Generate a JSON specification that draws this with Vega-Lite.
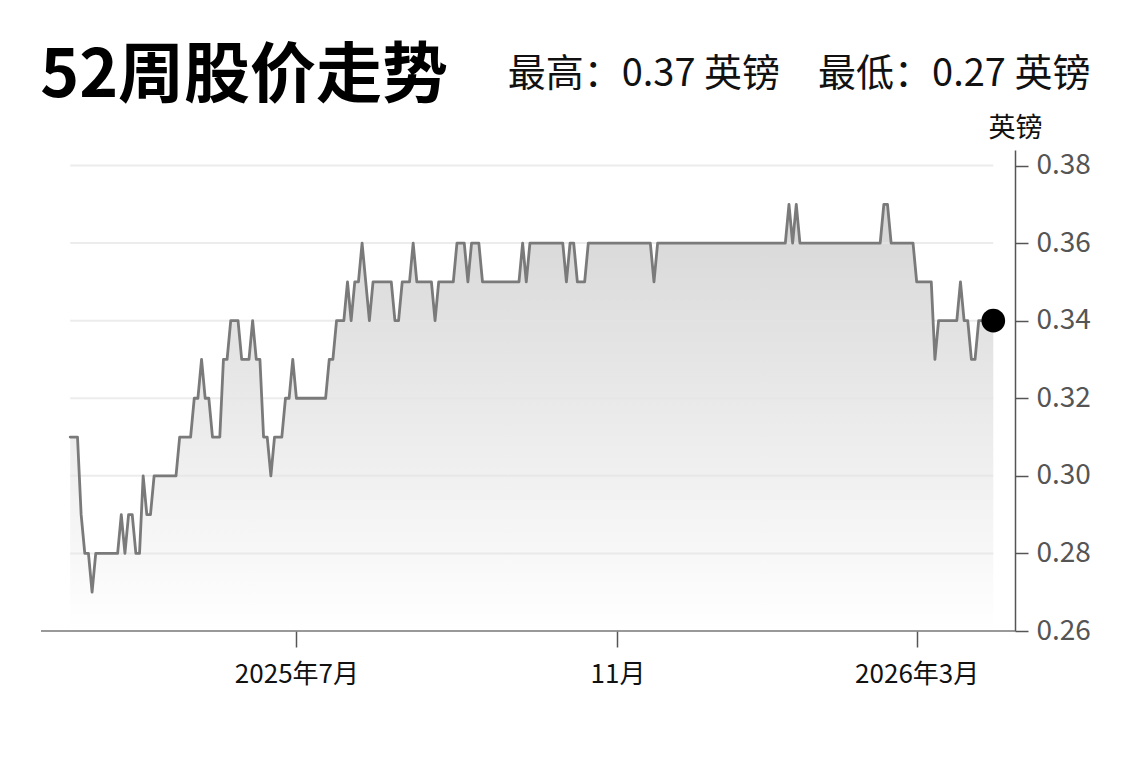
{
  "$schema": "https://vega.github.io/schema/vega-lite/v6.json",
  "padding": {"left": 40, "right": 0, "top": 44, "bottom": 0},
  "background": "white",
  "title": {"text": "52周股价走势", "anchor": "start", "font": "Noto Sans CJK SC", "fontSize": 66, "fontWeight": "bold", "color": "#000000", "offset": 0, "dy": 55},
  "datasets": {
    "grid": [{"g": 0.28}, {"g": 0.30}, {"g": 0.32}, {"g": 0.34}, {"g": 0.36}, {"g": 0.38}],
    "price": [
      {"d": "2025-03-31", "p": 0.31}, {"d": "2025-04-01", "p": 0.31}, {"d": "2025-04-02", "p": 0.31}, {"d": "2025-04-03", "p": 0.29},
      {"d": "2025-04-04", "p": 0.28}, {"d": "2025-04-07", "p": 0.28}, {"d": "2025-04-08", "p": 0.27}, {"d": "2025-04-09", "p": 0.28},
      {"d": "2025-04-10", "p": 0.28}, {"d": "2025-04-11", "p": 0.28}, {"d": "2025-04-14", "p": 0.28}, {"d": "2025-04-15", "p": 0.28},
      {"d": "2025-04-16", "p": 0.28}, {"d": "2025-04-17", "p": 0.28}, {"d": "2025-04-22", "p": 0.29}, {"d": "2025-04-23", "p": 0.28},
      {"d": "2025-04-24", "p": 0.29}, {"d": "2025-04-25", "p": 0.29}, {"d": "2025-04-28", "p": 0.28}, {"d": "2025-04-29", "p": 0.28},
      {"d": "2025-04-30", "p": 0.30}, {"d": "2025-05-01", "p": 0.29}, {"d": "2025-05-02", "p": 0.29}, {"d": "2025-05-06", "p": 0.30},
      {"d": "2025-05-07", "p": 0.30}, {"d": "2025-05-08", "p": 0.30}, {"d": "2025-05-09", "p": 0.30}, {"d": "2025-05-12", "p": 0.30},
      {"d": "2025-05-13", "p": 0.30}, {"d": "2025-05-14", "p": 0.30}, {"d": "2025-05-15", "p": 0.31}, {"d": "2025-05-16", "p": 0.31},
      {"d": "2025-05-19", "p": 0.31}, {"d": "2025-05-20", "p": 0.31}, {"d": "2025-05-21", "p": 0.32}, {"d": "2025-05-22", "p": 0.32},
      {"d": "2025-05-23", "p": 0.33}, {"d": "2025-05-27", "p": 0.32}, {"d": "2025-05-28", "p": 0.32}, {"d": "2025-05-29", "p": 0.31},
      {"d": "2025-05-30", "p": 0.31}, {"d": "2025-06-02", "p": 0.31}, {"d": "2025-06-03", "p": 0.33}, {"d": "2025-06-04", "p": 0.33},
      {"d": "2025-06-05", "p": 0.34}, {"d": "2025-06-06", "p": 0.34}, {"d": "2025-06-09", "p": 0.34}, {"d": "2025-06-10", "p": 0.33},
      {"d": "2025-06-11", "p": 0.33}, {"d": "2025-06-12", "p": 0.33}, {"d": "2025-06-13", "p": 0.34}, {"d": "2025-06-16", "p": 0.33},
      {"d": "2025-06-17", "p": 0.33}, {"d": "2025-06-18", "p": 0.31}, {"d": "2025-06-19", "p": 0.31}, {"d": "2025-06-20", "p": 0.30},
      {"d": "2025-06-23", "p": 0.31}, {"d": "2025-06-24", "p": 0.31}, {"d": "2025-06-25", "p": 0.31}, {"d": "2025-06-26", "p": 0.32},
      {"d": "2025-06-27", "p": 0.32}, {"d": "2025-06-30", "p": 0.33}, {"d": "2025-07-01", "p": 0.32}, {"d": "2025-07-02", "p": 0.32},
      {"d": "2025-07-03", "p": 0.32}, {"d": "2025-07-04", "p": 0.32}, {"d": "2025-07-07", "p": 0.32}, {"d": "2025-07-08", "p": 0.32},
      {"d": "2025-07-09", "p": 0.32}, {"d": "2025-07-10", "p": 0.32}, {"d": "2025-07-11", "p": 0.32}, {"d": "2025-07-14", "p": 0.33},
      {"d": "2025-07-15", "p": 0.33}, {"d": "2025-07-16", "p": 0.34}, {"d": "2025-07-17", "p": 0.34}, {"d": "2025-07-18", "p": 0.34},
      {"d": "2025-07-21", "p": 0.35}, {"d": "2025-07-22", "p": 0.34}, {"d": "2025-07-23", "p": 0.35}, {"d": "2025-07-24", "p": 0.35},
      {"d": "2025-07-25", "p": 0.36}, {"d": "2025-07-28", "p": 0.35}, {"d": "2025-07-29", "p": 0.34}, {"d": "2025-07-30", "p": 0.35},
      {"d": "2025-07-31", "p": 0.35}, {"d": "2025-08-01", "p": 0.35}, {"d": "2025-08-04", "p": 0.35}, {"d": "2025-08-05", "p": 0.35},
      {"d": "2025-08-06", "p": 0.35}, {"d": "2025-08-07", "p": 0.34}, {"d": "2025-08-08", "p": 0.34}, {"d": "2025-08-11", "p": 0.35},
      {"d": "2025-08-12", "p": 0.35}, {"d": "2025-08-13", "p": 0.35}, {"d": "2025-08-14", "p": 0.36}, {"d": "2025-08-15", "p": 0.35},
      {"d": "2025-08-18", "p": 0.35}, {"d": "2025-08-19", "p": 0.35}, {"d": "2025-08-20", "p": 0.35}, {"d": "2025-08-21", "p": 0.35},
      {"d": "2025-08-22", "p": 0.34}, {"d": "2025-08-26", "p": 0.35}, {"d": "2025-08-27", "p": 0.35}, {"d": "2025-08-28", "p": 0.35},
      {"d": "2025-08-29", "p": 0.35}, {"d": "2025-09-01", "p": 0.35}, {"d": "2025-09-02", "p": 0.36}, {"d": "2025-09-03", "p": 0.36},
      {"d": "2025-09-04", "p": 0.36}, {"d": "2025-09-05", "p": 0.35}, {"d": "2025-09-08", "p": 0.36}, {"d": "2025-09-09", "p": 0.36},
      {"d": "2025-09-10", "p": 0.36}, {"d": "2025-09-11", "p": 0.35}, {"d": "2025-09-12", "p": 0.35}, {"d": "2025-09-15", "p": 0.35},
      {"d": "2025-09-16", "p": 0.35}, {"d": "2025-09-17", "p": 0.35}, {"d": "2025-09-18", "p": 0.35}, {"d": "2025-09-19", "p": 0.35},
      {"d": "2025-09-22", "p": 0.35}, {"d": "2025-09-23", "p": 0.35}, {"d": "2025-09-24", "p": 0.35}, {"d": "2025-09-25", "p": 0.35},
      {"d": "2025-09-26", "p": 0.36}, {"d": "2025-09-29", "p": 0.35}, {"d": "2025-09-30", "p": 0.36}, {"d": "2025-10-01", "p": 0.36},
      {"d": "2025-10-02", "p": 0.36}, {"d": "2025-10-03", "p": 0.36}, {"d": "2025-10-06", "p": 0.36}, {"d": "2025-10-07", "p": 0.36},
      {"d": "2025-10-08", "p": 0.36}, {"d": "2025-10-09", "p": 0.36}, {"d": "2025-10-10", "p": 0.36}, {"d": "2025-10-13", "p": 0.36},
      {"d": "2025-10-14", "p": 0.35}, {"d": "2025-10-15", "p": 0.36}, {"d": "2025-10-16", "p": 0.36}, {"d": "2025-10-17", "p": 0.35},
      {"d": "2025-10-20", "p": 0.35}, {"d": "2025-10-21", "p": 0.35}, {"d": "2025-10-22", "p": 0.36}, {"d": "2025-10-23", "p": 0.36},
      {"d": "2025-10-24", "p": 0.36}, {"d": "2025-10-27", "p": 0.36}, {"d": "2025-10-28", "p": 0.36}, {"d": "2025-10-29", "p": 0.36},
      {"d": "2025-10-30", "p": 0.36}, {"d": "2025-10-31", "p": 0.36}, {"d": "2025-11-03", "p": 0.36}, {"d": "2025-11-04", "p": 0.36},
      {"d": "2025-11-05", "p": 0.36}, {"d": "2025-11-06", "p": 0.36}, {"d": "2025-11-07", "p": 0.36}, {"d": "2025-11-10", "p": 0.36},
      {"d": "2025-11-11", "p": 0.36}, {"d": "2025-11-12", "p": 0.36}, {"d": "2025-11-13", "p": 0.36}, {"d": "2025-11-14", "p": 0.36},
      {"d": "2025-11-17", "p": 0.35}, {"d": "2025-11-18", "p": 0.36}, {"d": "2025-11-19", "p": 0.36}, {"d": "2025-11-20", "p": 0.36},
      {"d": "2025-11-21", "p": 0.36}, {"d": "2025-11-24", "p": 0.36}, {"d": "2025-11-25", "p": 0.36}, {"d": "2025-11-26", "p": 0.36},
      {"d": "2025-11-27", "p": 0.36}, {"d": "2025-11-28", "p": 0.36}, {"d": "2025-12-01", "p": 0.36}, {"d": "2025-12-02", "p": 0.36},
      {"d": "2025-12-03", "p": 0.36}, {"d": "2025-12-04", "p": 0.36}, {"d": "2025-12-05", "p": 0.36}, {"d": "2025-12-08", "p": 0.36},
      {"d": "2025-12-09", "p": 0.36}, {"d": "2025-12-10", "p": 0.36}, {"d": "2025-12-11", "p": 0.36}, {"d": "2025-12-12", "p": 0.36},
      {"d": "2025-12-15", "p": 0.36}, {"d": "2025-12-16", "p": 0.36}, {"d": "2025-12-17", "p": 0.36}, {"d": "2025-12-18", "p": 0.36},
      {"d": "2025-12-19", "p": 0.36}, {"d": "2025-12-22", "p": 0.36}, {"d": "2025-12-23", "p": 0.36}, {"d": "2025-12-24", "p": 0.36},
      {"d": "2025-12-29", "p": 0.36}, {"d": "2025-12-30", "p": 0.36}, {"d": "2025-12-31", "p": 0.36}, {"d": "2026-01-02", "p": 0.36},
      {"d": "2026-01-05", "p": 0.36}, {"d": "2026-01-06", "p": 0.36}, {"d": "2026-01-07", "p": 0.36}, {"d": "2026-01-08", "p": 0.36},
      {"d": "2026-01-09", "p": 0.36}, {"d": "2026-01-12", "p": 0.37}, {"d": "2026-01-13", "p": 0.36}, {"d": "2026-01-14", "p": 0.37},
      {"d": "2026-01-15", "p": 0.36}, {"d": "2026-01-16", "p": 0.36}, {"d": "2026-01-19", "p": 0.36}, {"d": "2026-01-20", "p": 0.36},
      {"d": "2026-01-21", "p": 0.36}, {"d": "2026-01-22", "p": 0.36}, {"d": "2026-01-23", "p": 0.36}, {"d": "2026-01-26", "p": 0.36},
      {"d": "2026-01-27", "p": 0.36}, {"d": "2026-01-28", "p": 0.36}, {"d": "2026-01-29", "p": 0.36}, {"d": "2026-01-30", "p": 0.36},
      {"d": "2026-02-02", "p": 0.36}, {"d": "2026-02-03", "p": 0.36}, {"d": "2026-02-04", "p": 0.36}, {"d": "2026-02-05", "p": 0.36},
      {"d": "2026-02-06", "p": 0.36}, {"d": "2026-02-09", "p": 0.36}, {"d": "2026-02-10", "p": 0.36}, {"d": "2026-02-11", "p": 0.36},
      {"d": "2026-02-12", "p": 0.36}, {"d": "2026-02-13", "p": 0.36}, {"d": "2026-02-16", "p": 0.36}, {"d": "2026-02-17", "p": 0.37},
      {"d": "2026-02-18", "p": 0.37}, {"d": "2026-02-19", "p": 0.36}, {"d": "2026-02-20", "p": 0.36}, {"d": "2026-02-23", "p": 0.36},
      {"d": "2026-02-24", "p": 0.36}, {"d": "2026-02-25", "p": 0.36}, {"d": "2026-02-26", "p": 0.36}, {"d": "2026-02-27", "p": 0.36},
      {"d": "2026-03-02", "p": 0.35}, {"d": "2026-03-03", "p": 0.35}, {"d": "2026-03-04", "p": 0.35}, {"d": "2026-03-05", "p": 0.35},
      {"d": "2026-03-06", "p": 0.35}, {"d": "2026-03-09", "p": 0.33}, {"d": "2026-03-10", "p": 0.34}, {"d": "2026-03-11", "p": 0.34},
      {"d": "2026-03-12", "p": 0.34}, {"d": "2026-03-13", "p": 0.34}, {"d": "2026-03-16", "p": 0.34}, {"d": "2026-03-17", "p": 0.34},
      {"d": "2026-03-18", "p": 0.35}, {"d": "2026-03-19", "p": 0.34}, {"d": "2026-03-20", "p": 0.34}, {"d": "2026-03-23", "p": 0.33},
      {"d": "2026-03-24", "p": 0.33}, {"d": "2026-03-25", "p": 0.34}, {"d": "2026-03-26", "p": 0.34}, {"d": "2026-03-27", "p": 0.34},
      {"d": "2026-03-30", "p": 0.34}, {"d": "2026-03-31", "p": 0.34}
    ]
  },
  "vconcat": [
    {
      "width": 974,
      "height": 481,
      "title": {"text": "最高：0.37 英镑\u3000最低：0.27 英镑", "anchor": "end", "frame": "bounds", "font": "Noto Sans CJK SC", "fontSize": 38, "fontWeight": "normal", "color": "#111111", "offset": 20},
      "data": {"name": "price"},
      "encoding": {
        "y": {
          "field": "p", "type": "quantitative",
          "scale": {"domain": [0.26, 0.384], "nice": false, "zero": false},
          "axis": {
            "orient": "right", "values": [0.26, 0.28, 0.30, 0.32, 0.34, 0.36, 0.38], "format": ".2f", "grid": false,
            "domainColor": "#555555", "domainWidth": 1.5,
            "tickColor": "#555555", "tickWidth": 1.5, "tickSize": 13,
            "labelFont": "Noto Sans CJK SC", "labelFontSize": 28, "labelColor": "#555555", "labelPadding": 8,
            "title": "英镑", "titleAngle": 0, "titleX": 0, "titleY": -8, "titleAlign": "center", "titleBaseline": "bottom",
            "titleFont": "Noto Sans CJK SC", "titleFontSize": 27, "titleFontWeight": "normal", "titleColor": "#111111"
          }
        }
      },
      "layer": [
        {
          "mark": {"type": "area", "interpolate": "linear",
            "color": {"gradient": "linear", "x1": 0, "y1": 0, "x2": 0, "y2": 1,
              "stops": [{"offset": 0, "color": "#d2d2d2"}, {"offset": 1, "color": "#ffffff"}]},
            "fillOpacity": 0.9},
          "encoding": {
            "x": {
              "field": "d", "type": "ordinal",
              "scale": {"type": "point", "range": [29.2, 952.3], "padding": 0},
              "axis": {
                "values": ["2025-07-01", "2025-11-03", "2026-03-02"],
                "labelExpr": "datum.value == '2025-07-01' ? '2025年7月' : (datum.value == '2025-11-03' ? '11月' : '2026年3月')",
                "title": null, "labelAngle": 0, "grid": false, "domain": false,
                "tickColor": "#555555", "tickWidth": 1.5, "tickSize": 16,
                "labelFont": "Noto Sans CJK SC", "labelFontSize": 26, "labelColor": "#111111", "labelPadding": 14
              }
            },
            "y2": {"datum": 0.26}
          }
        },
        {
          "data": {"name": "grid"},
          "mark": {"type": "rule", "color": "#e4e4e4", "strokeWidth": 2, "opacity": 0.7},
          "encoding": {
            "x": {"datum": "2025-03-31"},
            "x2": {"datum": "2026-03-31"},
            "y": {"field": "g", "type": "quantitative"}
          }
        },
        {
          "data": {"values": [{"base": 0.26}]},
          "mark": {"type": "rule", "color": "#777777", "strokeWidth": 1.6},
          "encoding": {"y": {"field": "base", "type": "quantitative"}}
        },
        {
          "mark": {"type": "line", "interpolate": "linear", "color": "#7a7a7a", "strokeWidth": 2.8, "strokeJoin": "round", "strokeCap": "round"},
          "encoding": {"x": {"field": "d", "type": "ordinal"}}
        },
        {
          "transform": [{"filter": "datum.d == '2026-03-31'"}],
          "mark": {"type": "point", "filled": true, "color": "#000000", "opacity": 1, "size": 560},
          "encoding": {"x": {"field": "d", "type": "ordinal"}}
        }
      ]
    }
  ],
  "config": {
    "view": {"stroke": null},
    "concat": {"spacing": 0},
    "font": "Noto Sans CJK SC"
  }
}
